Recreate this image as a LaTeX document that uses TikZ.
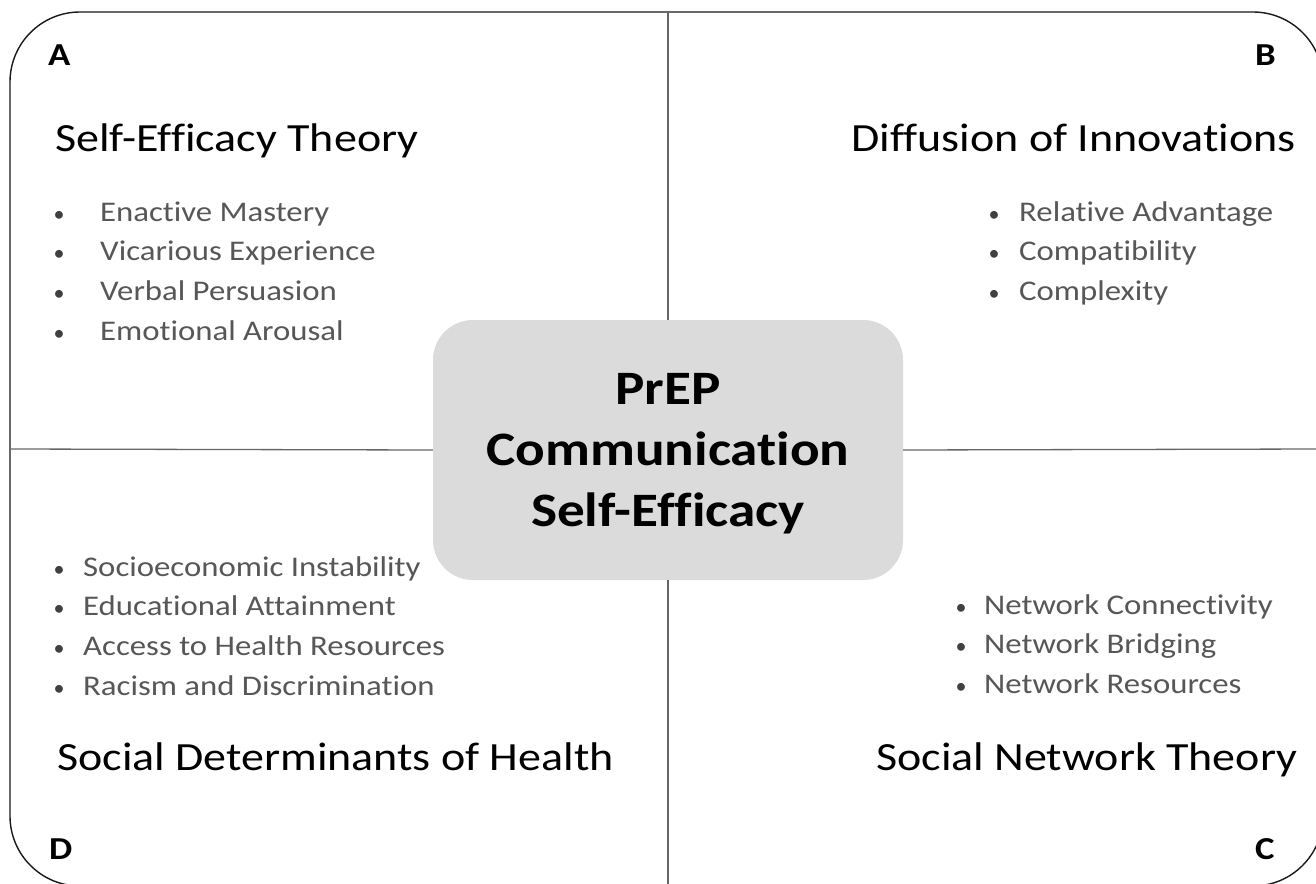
\documentclass[tikz,border=0pt]{standalone}
\usepackage{fontspec}
\setmainfont{Carlito}[Ligatures=NoCommon]
% all lettering is set slightly wide
\newcommand{\widetxt}[1]{\scalebox{1.15}[1]{#1}}
\begin{document}
\begin{tikzpicture}[x=1pt,y=-1pt,
  heading/.style={anchor=base west,inner sep=0pt,font=\fontsize{40}{48}\selectfont,text=black},
  item/.style={anchor=base west,inner sep=0pt,font=\fontsize{28.5}{34}\selectfont,text=black!66},
  dot/.style={anchor=base,inner sep=0pt,font=\fontsize{22}{26}\selectfont,text=black!75},
  corner/.style={anchor=base west,inner sep=0pt,font=\bfseries\fontsize{32}{38}\selectfont,text=black},
  divider/.style={draw=black!60,line width=1.3pt},
  frame/.style={draw=black!90,line width=1.4pt,rounded corners=70pt},
  core/.style={fill=black!14,rounded corners=40pt,minimum width=470pt,minimum height=260pt,
    inner sep=0pt},
  coretext/.style={align=center,inner sep=0pt,text=black,
    font=\bfseries\fontsize{48}{61}\selectfont}]
\useasboundingbox (0,0) rectangle (1316,883);
\fill[white] (0,0) rectangle (1316,883);
\begin{scope}
\clip (0,0) rectangle (1316,883);
% outer frame
\draw[frame] (10,12) rectangle (1323,886);
% points where the dividers meet the frame
\coordinate (ftop) at (668,12);
\coordinate (fbot) at (668,890);
\coordinate (fleft) at (10,449);
\coordinate (fright) at (1320,449);
% central concept
\node[core] (core) at (668,450) {};
\draw[divider] (ftop) -- (core.north);
\draw[divider] (core.south) -- (fbot);
\draw[divider] (fleft) -- (core.west);
\draw[divider] (core.east) -- (fright);
\node[coretext] (corelabel) at ([yshift=-3pt]core.center)
  {\widetxt{\begin{tabular}{@{}c@{}}PrEP\\Communication\\Self-Efficacy\end{tabular}}};
\end{scope}

% quadrant letters
\node[corner] (qa) at (48,66) {\widetxt{A}};
\node[corner] (qb) at (1255,66) {\widetxt{B}};
\node[corner] (qc) at (1255,859) {\widetxt{C}};
\node[corner] (qd) at (49,859) {\widetxt{D}};

% A: Self-Efficacy Theory
\node[heading] (ha) at (55,151) {\widetxt{Self-Efficacy Theory}};
\foreach \t [count=\i] in {Enactive Mastery,Vicarious Experience,Verbal Persuasion,Emotional Arousal}{
  \node[dot] (ba\i) at (59,221+39.7*\i-39.7) {•};
  \node[item] (ia\i) at (100,221+39.7*\i-39.7) {\widetxt{\t}};
}

% B: Diffusion of Innovations
\node[heading] (hb) at (851,151) {\widetxt{Diffusion of Innovations}};
\foreach \t [count=\i] in {Relative Advantage,Compatibility,Complexity}{
  \node[dot] (bb\i) at (994,221+39.7*\i-39.7) {•};
  \node[item] (ib\i) at (1019,221+39.7*\i-39.7) {\widetxt{\t}};
}

% D: Social Determinants of Health
\foreach \t [count=\i] in {Socioeconomic Instability,Educational Attainment,Access to Health Resources,Racism and Discrimination}{
  \node[dot] (bd\i) at (59,576+39.7*\i-39.7) {•};
  \node[item] (id\i) at (83,576+39.7*\i-39.7) {\widetxt{\t}};
}
\node[heading] (hd) at (57,770) {\widetxt{Social Determinants of Health}};

% C: Social Network Theory
\foreach \t [count=\i] in {Network Connectivity,Network Bridging,Network Resources}{
  \node[dot] (bc\i) at (961,614+39.7*\i-39.7) {•};
  \node[item] (ic\i) at (984,614+39.7*\i-39.7) {\widetxt{\t}};
}
\node[heading] (hc) at (876,770) {\widetxt{Social Network Theory}};
\end{tikzpicture}
\end{document}
